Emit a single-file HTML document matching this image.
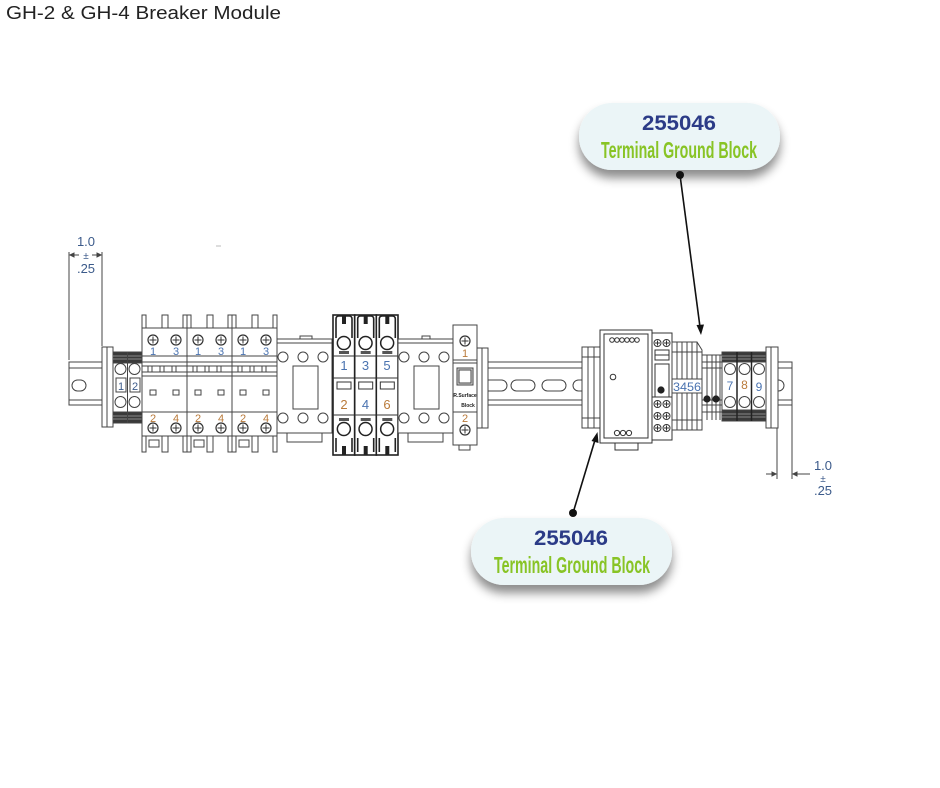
<!DOCTYPE html>
<html><head><meta charset="utf-8"><style>
html,body{margin:0;padding:0;background:#fff;}
svg{display:block;}
text{font-family:"Liberation Sans",sans-serif;}
</style></head><body>
<svg width="940" height="788" viewBox="0 0 940 788" xmlns="http://www.w3.org/2000/svg">
<defs>
<filter id="sh" x="-20%" y="-30%" width="140%" height="180%">
<feDropShadow dx="0" dy="8" stdDeviation="5" flood-color="#000" flood-opacity="0.45"/>
</filter>
<g id="scr"><circle r="5" fill="#fff" stroke="#333" stroke-width="1.2"/><line x1="-3.5" y1="0" x2="3.5" y2="0" stroke="#333"/><line x1="0" y1="-3.5" x2="0" y2="3.5" stroke="#333"/></g>
<g id="sscr"><circle r="3.5" fill="#fff" stroke="#333"/><line x1="-2.5" y1="0" x2="2.5" y2="0" stroke="#333"/><line x1="0" y1="-2.5" x2="0" y2="2.5" stroke="#333"/></g>
<g id="brk" fill="#fff" stroke="#444" stroke-width="1">
<rect x="0" y="315" width="4" height="15"/><rect x="20" y="315" width="6" height="15"/><rect x="41" y="315" width="4" height="15"/>
<rect x="0" y="328" width="45" height="108"/>
<line x1="0" y1="356" x2="45" y2="356"/>
<line x1="0" y1="362" x2="45" y2="362"/><line x1="0" y1="366" x2="45" y2="366"/>
<line x1="0" y1="372" x2="45" y2="372"/><line x1="0" y1="376" x2="45" y2="376"/>
<rect x="6" y="366" width="4" height="6"/><rect x="18" y="366" width="4" height="6"/><rect x="30" y="366" width="4" height="6"/>
<rect x="8" y="390" width="6" height="5"/><rect x="31" y="390" width="6" height="5"/>
<line x1="0" y1="412" x2="45" y2="412"/>
<rect x="0" y="436" width="4" height="16"/><rect x="20" y="436" width="6" height="16"/><rect x="41" y="436" width="4" height="16"/>
<rect x="7" y="440" width="10" height="7"/>
<use href="#scr" x="11" y="340"/><use href="#scr" x="34" y="340"/>
<use href="#scr" x="11" y="428"/><use href="#scr" x="34" y="428"/>
</g>
<g id="pole">
<rect x="0" y="315" width="21.7" height="140" fill="#fff" stroke="#222" stroke-width="1.6"/>
<path d="M3 338 V319 Q3 316 6 316 H16 Q19 316 19 319 V338" fill="none" stroke="#222" stroke-width="1.6"/>
<rect x="9" y="315" width="4" height="9" fill="#222"/>
<circle cx="10.85" cy="343" r="6.5" fill="#fff" stroke="#222" stroke-width="1.5"/>
<rect x="6" y="351" width="10" height="3" fill="#555"/>
<line x1="0" y1="356" x2="21.7" y2="356" stroke="#333"/>
<line x1="0" y1="378" x2="21.7" y2="378" stroke="#333"/>
<rect x="4" y="382" width="14" height="7" fill="#fff" stroke="#333"/>
<line x1="0" y1="415" x2="21.7" y2="415" stroke="#333"/>
<rect x="6" y="418" width="10" height="3" fill="#555"/>
<circle cx="10.85" cy="429" r="6.5" fill="#fff" stroke="#222" stroke-width="1.5"/>
<path d="M3 438 V452 M19 438 V452" fill="none" stroke="#222" stroke-width="1.6"/>
<rect x="9" y="446" width="4" height="9" fill="#222"/>
</g>
<g id="cont" fill="#fff" stroke="#444">
<rect x="0" y="339" width="55" height="94"/>
<line x1="0" y1="343" x2="55" y2="343"/>
<circle cx="6" cy="357" r="5"/><circle cx="26" cy="357" r="5"/><circle cx="46" cy="357" r="5"/>
<rect x="16" y="366" width="25" height="43"/>
<circle cx="6" cy="418" r="5"/><circle cx="26" cy="418" r="5"/><circle cx="46" cy="418" r="5"/>
<rect x="10" y="433" width="35" height="9"/>
</g>
</defs>

<!-- Title -->
<text x="6" y="19" font-size="18" fill="#222" textLength="275" lengthAdjust="spacingAndGlyphs">GH-2 &amp; GH-4 Breaker Module</text>

<!-- stray dash -->
<line x1="216" y1="246" x2="221" y2="246" stroke="#bbb"/>

<!-- Left dimension -->
<g stroke="#444" stroke-width="1" fill="#444">
<line x1="69" y1="252" x2="69" y2="360"/>
<line x1="102" y1="252" x2="102" y2="346"/>
<line x1="70" y1="255" x2="79" y2="255"/><path d="M70 255 l4 -2 v4z"/>
<line x1="92" y1="255" x2="101" y2="255"/><path d="M101 255 l-4 -2 v4z"/>
</g>
<text x="86" y="246" font-size="13" fill="#3b5a8a" text-anchor="middle">1.0</text>
<text x="86" y="259" font-size="10" fill="#3b5a8a" text-anchor="middle">±</text>
<text x="86" y="273" font-size="13" fill="#3b5a8a" text-anchor="middle">.25</text>

<!-- DIN rail -->
<g stroke="#444" fill="#fff">
<rect x="69" y="362" width="723" height="43"/>
<line x1="69" y1="368" x2="792" y2="368"/>
<line x1="69" y1="400" x2="792" y2="400"/>
<rect x="72" y="380" width="14" height="11" rx="5.5"/>
<rect x="478" y="380" width="29" height="11" rx="5.5"/>
<rect x="511" y="380" width="24" height="11" rx="5.5"/>
<rect x="542" y="380" width="24" height="11" rx="5.5"/>
<rect x="573" y="380" width="24" height="11" rx="5.5"/>
<rect x="770" y="380" width="14" height="11" rx="5.5"/>
</g>

<!-- Left end stop -->
<g stroke="#444" fill="#fff">
<rect x="102" y="347" width="11" height="80"/>
<line x1="107" y1="347" x2="107" y2="427"/>
</g>
<!-- Terminal block 1 2 -->
<g stroke="#444" fill="#fff">
<rect x="113" y="352" width="29" height="71"/>
<rect x="113" y="352" width="29" height="11" fill="#3a3a3a"/>
<rect x="113" y="412" width="29" height="11" fill="#3a3a3a"/>
<line x1="113" y1="356" x2="142" y2="356" stroke="#888"/><line x1="113" y1="359" x2="142" y2="359" stroke="#888"/>
<line x1="113" y1="416" x2="142" y2="416" stroke="#888"/><line x1="113" y1="419" x2="142" y2="419" stroke="#888"/>
<line x1="127.5" y1="352" x2="127.5" y2="423"/>
<circle cx="120.5" cy="369" r="5.5"/><circle cx="134.5" cy="369" r="5.5"/>
<circle cx="120.5" cy="402" r="5.5"/><circle cx="134.5" cy="402" r="5.5"/>
<rect x="116" y="378" width="10" height="14"/><rect x="130" y="378" width="10" height="14"/>
</g>
<text x="121" y="390" font-size="11" fill="#3b5a8a" text-anchor="middle">1</text>
<text x="135" y="390" font-size="11" fill="#3b5a8a" text-anchor="middle">2</text>

<!-- Breakers -->
<use href="#brk" x="142" y="0"/>
<use href="#brk" x="187" y="0"/>
<use href="#brk" x="232" y="0"/>
<g font-size="11" text-anchor="middle">
<text x="153" y="355" fill="#4a73b0">1</text><text x="176" y="355" fill="#4a73b0">3</text>
<text x="198" y="355" fill="#4a73b0">1</text><text x="221" y="355" fill="#4a73b0">3</text>
<text x="243" y="355" fill="#4a73b0">1</text><text x="266" y="355" fill="#4a73b0">3</text>
<text x="153" y="422" fill="#b97a3a">2</text><text x="176" y="422" fill="#b97a3a">4</text>
<text x="198" y="422" fill="#b97a3a">2</text><text x="221" y="422" fill="#b97a3a">4</text>
<text x="243" y="422" fill="#b97a3a">2</text><text x="266" y="422" fill="#b97a3a">4</text>
</g>

<!-- Left contactor -->
<rect x="300" y="336" width="12" height="4" fill="#fff" stroke="#444"/>
<use href="#cont" x="277" y="0"/>

<!-- Center poles -->
<use href="#pole" x="333" y="0"/>
<use href="#pole" x="354.7" y="0"/>
<use href="#pole" x="376.3" y="0"/>
<g font-size="13" text-anchor="middle">
<text x="344" y="370" fill="#4a73b0">1</text><text x="365.5" y="370" fill="#4a73b0">3</text><text x="387" y="370" fill="#4a73b0">5</text>
<text x="344" y="409" fill="#b97a3a">2</text><text x="365.5" y="409" fill="#4a73b0">4</text><text x="387" y="409" fill="#b97a3a">6</text>
</g>

<!-- Right contactor -->
<rect x="422" y="336" width="8" height="4" fill="#fff" stroke="#444"/>
<use href="#cont" x="398" y="0"/>

<!-- Small breaker -->
<g stroke="#444" fill="#fff">
<rect x="477" y="348" width="11" height="80"/>
<line x1="482" y1="348" x2="482" y2="428"/>
<rect x="453" y="325" width="24" height="120"/>
<line x1="453" y1="360" x2="477" y2="360"/><line x1="453" y1="363" x2="477" y2="363"/>
<rect x="457" y="368" width="16" height="17" fill="#ddd"/>
<rect x="459" y="370" width="12" height="13"/>
<line x1="453" y1="412" x2="477" y2="412"/>
<rect x="459" y="445" width="11" height="5"/>
</g>
<use href="#scr" x="465" y="341"/>
<use href="#scr" x="465" y="430"/>
<text x="465" y="357" font-size="11" fill="#b97a3a" text-anchor="middle">1</text>
<text x="465" y="422" font-size="11" fill="#b97a3a" text-anchor="middle">2</text>
<text x="465" y="397" font-size="5" font-weight="bold" fill="#222" text-anchor="middle">R.Surface</text>
<text x="468" y="407" font-size="5" font-weight="bold" fill="#222" text-anchor="middle">Block</text>

<!-- Right-center end stop -->
<g stroke="#444" fill="#fff">
<rect x="582" y="347" width="18" height="81"/>
<line x1="588" y1="347" x2="588" y2="428"/><line x1="594" y1="347" x2="594" y2="428"/>
<line x1="582" y1="357" x2="600" y2="357"/><line x1="582" y1="418" x2="600" y2="418"/>
</g>

<!-- Module -->
<g stroke="#333" fill="#fff">
<rect x="600" y="330" width="52" height="113"/>
<rect x="604" y="334" width="44" height="104"/>
<rect x="615" y="443" width="23" height="7"/>
<circle cx="612" cy="340" r="2.3"/><circle cx="617" cy="340" r="2.3"/><circle cx="622" cy="340" r="2.3"/>
<circle cx="627" cy="340" r="2.3"/><circle cx="632" cy="340" r="2.3"/><circle cx="637" cy="340" r="2.3"/>
<circle cx="613" cy="377" r="2.8"/>
<circle cx="617" cy="433" r="2.6"/><circle cx="623" cy="433" r="2.6"/><circle cx="629" cy="433" r="2.6"/>
</g>

<!-- Screw block -->
<g stroke="#333" fill="#fff">
<rect x="652" y="333" width="20" height="107"/>
<rect x="655" y="350" width="14" height="10"/>
<line x1="655" y1="355" x2="669" y2="355"/>
<rect x="655" y="364" width="14" height="33"/>
<line x1="652" y1="397" x2="672" y2="397"/>
</g>
<circle cx="661" cy="390" r="3.6" fill="#222"/>
<use href="#sscr" x="657.5" y="343"/><use href="#sscr" x="666.5" y="343"/>
<use href="#sscr" x="657.5" y="404"/><use href="#sscr" x="666.5" y="404"/>
<use href="#sscr" x="657.5" y="416"/><use href="#sscr" x="666.5" y="416"/>
<use href="#sscr" x="657.5" y="428"/><use href="#sscr" x="666.5" y="428"/>

<!-- Terminal stack 3456 -->
<g stroke="#444" fill="#fff">
<path d="M672 342 H697 L702 350 V430 H672 Z"/>
<line x1="677" y1="342" x2="677" y2="430"/><line x1="682" y1="342" x2="682" y2="430"/>
<line x1="687" y1="342" x2="687" y2="430"/><line x1="692" y1="342" x2="692" y2="430"/>
<line x1="697" y1="342" x2="697" y2="430"/>
<line x1="672" y1="352" x2="702" y2="352"/><line x1="672" y1="420" x2="702" y2="420"/>
<rect x="672" y="379" width="30" height="14"/>
</g>
<text x="687" y="391" font-size="11.5" fill="#4a73b0" text-anchor="middle" textLength="28" lengthAdjust="spacingAndGlyphs">3456</text>

<!-- ground links -->
<g stroke="#444" fill="none">
<line x1="702" y1="355" x2="722" y2="355"/>
<line x1="702" y1="412" x2="722" y2="412"/>
<line x1="707" y1="355" x2="707" y2="420"/><line x1="712" y1="355" x2="712" y2="420"/>
<line x1="716" y1="355" x2="716" y2="420"/><line x1="720" y1="355" x2="720" y2="420"/>
</g>
<circle cx="707" cy="399" r="3.6" fill="#222"/>
<circle cx="716" cy="399" r="3.6" fill="#222"/>

<!-- Terminal block 7 8 9 -->
<g stroke="#444" fill="#fff">
<rect x="722" y="352" width="44" height="69"/>
<rect x="722" y="352" width="44" height="10" fill="#3a3a3a"/>
<rect x="722" y="410" width="44" height="11" fill="#3a3a3a"/>
<line x1="722" y1="356" x2="766" y2="356" stroke="#888"/><line x1="722" y1="359" x2="766" y2="359" stroke="#888"/>
<line x1="722" y1="414" x2="766" y2="414" stroke="#888"/><line x1="722" y1="417" x2="766" y2="417" stroke="#888"/>
<line x1="737" y1="352" x2="737" y2="421" stroke="#222" stroke-width="1.5"/>
<line x1="751.5" y1="352" x2="751.5" y2="421" stroke="#222" stroke-width="1.5"/>
<circle cx="730" cy="369" r="5.5"/><circle cx="744.5" cy="369" r="5.5"/><circle cx="759" cy="369" r="5.5"/>
<circle cx="730" cy="402" r="5.5"/><circle cx="744.5" cy="402" r="5.5"/><circle cx="759" cy="402" r="5.5"/>
</g>
<g font-size="12" text-anchor="middle">
<text x="730" y="390" fill="#4a73b0">7</text><text x="744.5" y="389" fill="#b97a3a">8</text><text x="759" y="391" fill="#4a73b0">9</text>
</g>

<!-- Right end stop -->
<g stroke="#444" fill="#fff">
<rect x="766" y="347" width="12" height="81"/>
<line x1="771" y1="347" x2="771" y2="428"/>
</g>

<!-- Right dimension -->
<g stroke="#444" fill="#444">
<line x1="777" y1="428" x2="777" y2="479"/>
<line x1="792" y1="405" x2="792" y2="479"/>
<line x1="766" y1="474" x2="776" y2="474"/><path d="M776 474 l-4 -2 v4z"/>
<line x1="793" y1="474" x2="810" y2="474"/><path d="M793 474 l4 -2 v4z"/>
</g>
<text x="823" y="470" font-size="13" fill="#3b5a8a" text-anchor="middle">1.0</text>
<text x="823" y="482" font-size="10" fill="#3b5a8a" text-anchor="middle">±</text>
<text x="823" y="495" font-size="13" fill="#3b5a8a" text-anchor="middle">.25</text>

<!-- Callout 1 -->
<rect x="579" y="103" width="201" height="67" rx="33" fill="#ebf5f7" filter="url(#sh)"/>
<text x="679" y="130" font-size="21" font-weight="bold" fill="#2b3b87" text-anchor="middle" textLength="74" lengthAdjust="spacingAndGlyphs">255046</text>
<text x="679" y="158" font-size="23" font-weight="bold" fill="#88c425" text-anchor="middle" textLength="156" lengthAdjust="spacingAndGlyphs" style="font-family:'Liberation Sans Narrow','Liberation Sans',sans-serif">Terminal Ground Block</text>
<circle cx="680" cy="175" r="4" fill="#111"/>
<line x1="680" y1="175" x2="700" y2="327" stroke="#111" stroke-width="1.6"/>
<path d="M701 335 L696.5 325 L704 324.5 Z" fill="#111"/>

<!-- Callout 2 -->
<rect x="471" y="518" width="201" height="67" rx="33" fill="#ebf5f7" filter="url(#sh)"/>
<text x="571" y="545" font-size="21" font-weight="bold" fill="#2b3b87" text-anchor="middle" textLength="74" lengthAdjust="spacingAndGlyphs">255046</text>
<text x="572" y="573" font-size="23" font-weight="bold" fill="#88c425" text-anchor="middle" textLength="156" lengthAdjust="spacingAndGlyphs" style="font-family:'Liberation Sans Narrow','Liberation Sans',sans-serif">Terminal Ground Block</text>
<circle cx="573" cy="513" r="4" fill="#111"/>
<line x1="573" y1="513" x2="595" y2="440" stroke="#111" stroke-width="1.6"/>
<path d="M597.5 432 L598.5 443 L591.5 441 Z" fill="#111"/>
</svg>
</body></html>
